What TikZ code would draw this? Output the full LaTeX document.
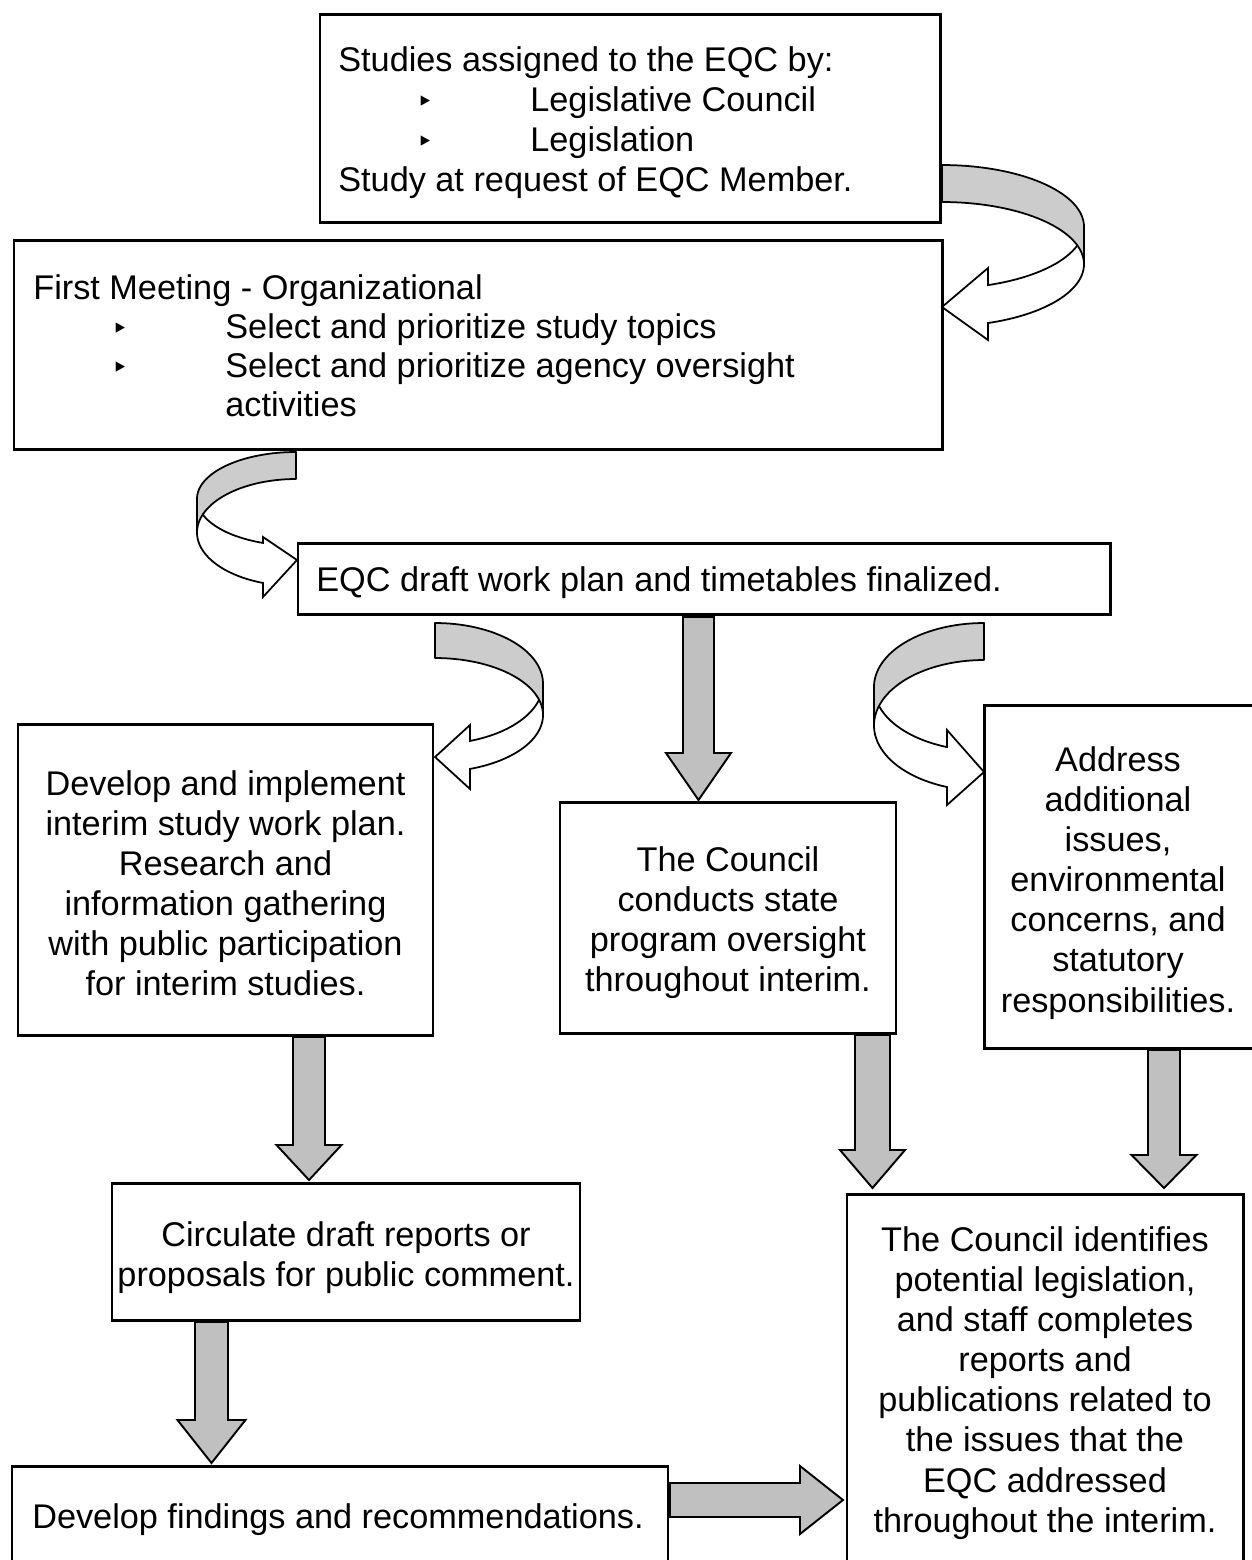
\documentclass[tikz,border=0pt]{standalone}
\usepackage{fontspec}
\setmainfont{Liberation Sans}
\newfontfamily\dejavu{DejaVu Sans}
\usetikzlibrary{fit}
\definecolor{arrowgray}{RGB}{192,192,192}
\definecolor{curlgray}{RGB}{204,204,204}
\newcommand{\dnarrow}[6]{% cx, ytop, yhead, ytip, half shaft, half head
  \draw[blockarrow] ({#1-#5},#2) -- ({#1+#5},#2) -- ({#1+#5},#3) -- ({#1+#6},#3) -- (#1,#4) -- ({#1-#6},#3) -- ({#1-#5},#3) -- cycle;}
% curved arrow: #1 cx, #2 sign (+1 arc on right, -1 arc on left), #3 rx,
% #4 cy1, #5 ry1, #6 cy2, #7 ry2, #8 angle at head base, #9 head path
\newcommand{\curlarrow}[9]{%
  \draw[curlfront] plot[domain=0:#8, samples=40] ({#1+#2*#3*cos(\x)},{#4+#5*sin(\x)})
    #9
    -- plot[domain=#8:0, samples=40] ({#1+#2*#3*cos(\x)},{#6+#7*sin(\x)}) -- cycle;
  \draw[curlback] plot[domain=-90:0, samples=40] ({#1+#2*#3*cos(\x)},{#4+#5*sin(\x)})
    -- plot[domain=0:-90, samples=40] ({#1+#2*#3*cos(\x)},{#6+#7*sin(\x)}) -- cycle;}
\begin{document}
\begin{tikzpicture}[x=0.02cm, y=-0.02cm,
  font=\fontsize{19.5}{22.8}\selectfont,
  box/.style={draw, line width=1.7pt, inner sep=0pt},
  txt/.style={align=center, inner sep=0pt},
  ltxt/.style={anchor=base west, inner sep=0pt},
  bul/.style={anchor=base, inner sep=0pt, font=\dejavu\fontsize{16}{18}\selectfont},
  blockarrow/.style={draw, fill=arrowgray, line width=1.1pt, line join=miter},
  curlback/.style={draw, fill=curlgray, line width=1pt, line join=round},
  curlfront/.style={draw, fill=white, line width=1pt, line join=miter}]
\useasboundingbox (0,0) rectangle (1252,1560);
\clip (0,0) rectangle (1252,1560);

% ---- curved arrows
\curlarrow{942}{1}{142}{226.7}{61.7}{264.2}{62.2}{71.1}{-- (988,268) -- (942,307) -- (988,340)}
\curlarrow{296}{-1}{99}{498.8}{46.8}{532.5}{53.5}{70.5}{-- (263,537) -- (297,560) -- (263,597)}
\curlarrow{435}{1}{108}{683.6}{60.6}{715}{57}{71.1}{-- (470,725) -- (435,757) -- (470,789)}
\curlarrow{984}{-1}{110}{686.9}{63.9}{725.4}{65.4}{70.4}{-- (947,730) -- (984,772) -- (947,805)}

% ---- straight block arrows
\dnarrow{698.5}{617}{753}{800}{15.5}{32.5}
\dnarrow{309}{1037}{1145}{1180}{16}{32.5}
\dnarrow{872.5}{1035}{1150}{1188}{17.5}{32.5}
\dnarrow{1164}{1050}{1155}{1188}{16}{32.5}
\dnarrow{211.5}{1322}{1420}{1463}{16.5}{34}
\draw[blockarrow] (670,1483) -- (800,1483) -- (800,1466) -- (843,1500) -- (800,1534) -- (800,1517) -- (670,1517) -- cycle;

% ---- boxes
\node[box, fit={(320,14) (940,222)}] (b1) {};
\node[box, fit={(14,240) (942,449)}] (b2) {};
\node[box, fit={(298,543) (1110,614)}] (b3) {};
\node[box, fit={(18,724) (433,1035)}] (b4) {};
\node[box, fit={(560,802) (896,1033)}] (b5) {};
\node[box, fit={(984,705) (1270,1048)}] (b6) {};
\node[box, fit={(112,1183) (580,1320)}] (b7) {};
\node[box, fit={(12,1466) (668,1590)}] (b8) {};
\node[box, fit={(847,1194) (1243,1590)}] (b9) {};

% ---- texts
\node[ltxt] (t1a) at (338,71) {Studies assigned to the EQC by:};
\node[bul] (t1b) at (425,111) {‣};
\node[ltxt] (t1c) at (530,111) {Legislative Council};
\node[bul] (t1d) at (425,151) {‣};
\node[ltxt] (t1e) at (530,151) {Legislation};
\node[ltxt] (t1f) at (338,191) {Study at request of EQC Member.};

\node[ltxt] (t2a) at (33,299) {First Meeting - Organizational};
\node[bul] (t2b) at (120,338) {‣};
\node[ltxt] (t2c) at (225,338) {Select and prioritize study topics};
\node[bul] (t2d) at (120,377) {‣};
\node[ltxt] (t2e) at (225,377) {Select and prioritize agency oversight};
\node[ltxt] (t2f) at (225,416) {activities};

\node[ltxt] (t3) at (316,591) {EQC draft work plan and timetables finalized.};

\node[txt] (t4) at (225.5,883.5) {Develop and implement\\interim study work plan.\\Research and\\information gathering\\with public participation\\for interim studies.};
\node[txt] (t5) at (728,923) {The Council\\conducts state\\program oversight\\throughout interim.};
\node[txt] (t6) at (1118,883) {Address\\additional\\issues,\\environmental\\concerns, and\\statutory\\responsibilities.};
\node[txt] (t7) at (346,1258) {Circulate draft reports or\\proposals for public comment.};
\node[txt, anchor=base] (t8) at (338,1528) {Develop findings and recommendations.};
\node[txt] (t9) at (1045,1383) {The Council identifies\\potential legislation,\\and staff completes\\reports and\\publications related to\\the issues that the\\EQC addressed\\throughout the interim.};
\end{tikzpicture}
\end{document}
